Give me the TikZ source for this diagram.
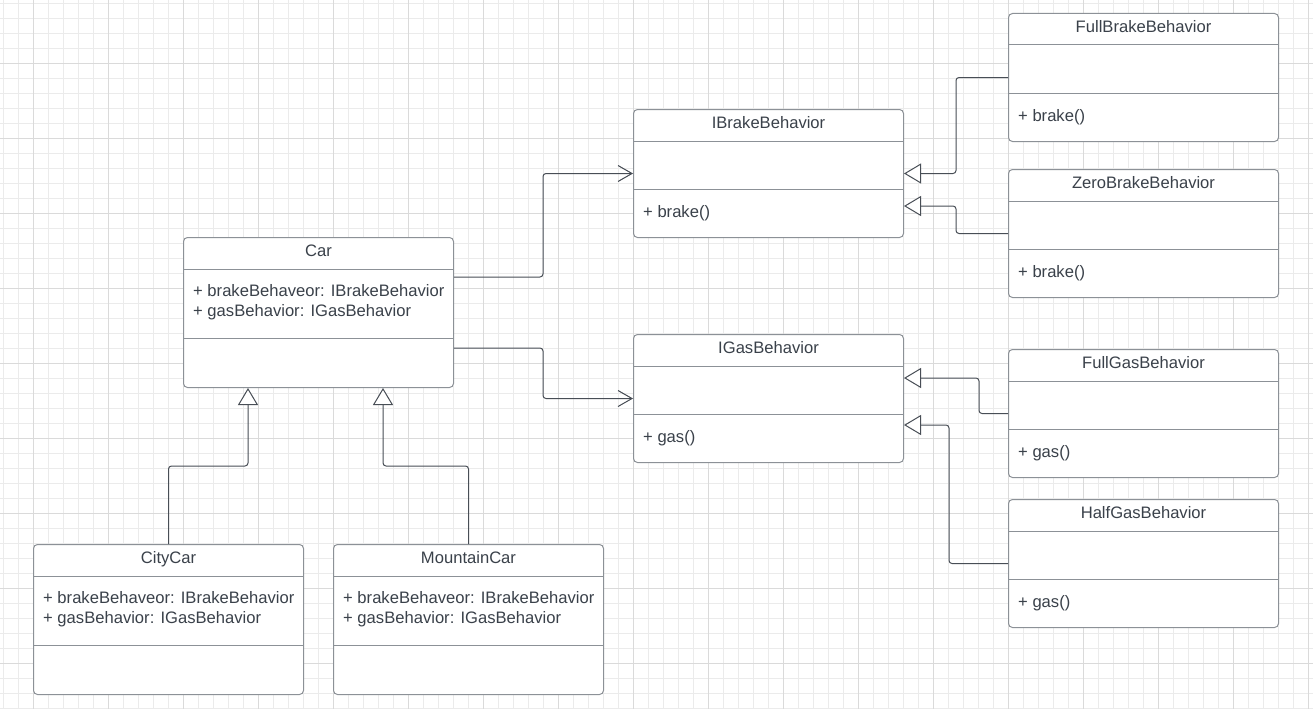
\documentclass[tikz,border=0pt]{standalone}
\usepackage{fontspec}
\setmainfont{Liberation Sans}
\usepackage{xcolor}
\definecolor{ink}{RGB}{58,65,74}
\definecolor{frame}{RGB}{140,145,151}
\definecolor{wire}{RGB}{72,78,86}
\definecolor{gridminor}{RGB}{235,235,235}
\definecolor{gridmajor}{RGB}{218,218,218}
\usepackage{tikz}
\usetikzlibrary{arrows.meta}

\begin{document}
\begin{tikzpicture}[x=1pt,y=-1pt,
    cls/.style={draw=frame, fill=white, line width=1pt, rounded corners=4pt, minimum width=270pt, anchor=north west, inner sep=0pt},
    rule/.style={draw=frame, line width=1pt},
    head/.style={anchor=base, inner sep=0pt, text=ink, font=\fontsize{16.6}{20}\selectfont},
    item/.style={head, anchor=base west},
    link/.style={draw=wire, line width=1pt, rounded corners=3pt},
    uses/.style={link, -{Straight Barb[length=14pt, width=16pt]}},
    isa/.style={link, -{Triangle[open, length=17pt, width=20pt, fill=white]}}]
    \useasboundingbox (0,0) rectangle (1313,709);
    \fill[white] (0,0) rectangle (1313,709);

    % grid paper
    \foreach \g in {3,18,...,1308} \draw[gridminor] (\g,0) -- (\g,709);
    \foreach \g in {3,18,...,708} \draw[gridminor] (0,\g) -- (1313,\g);
    \foreach \g in {33,108,...,1308} \draw[gridmajor] (\g,0) -- (\g,709);
    \foreach \g in {63,138,...,663} \draw[gridmajor] (0,\g) -- (1313,\g);

    % classes with two fields
    \foreach \n/\x/\y/\t in {car/183/237/Car, citycar/33/544/CityCar, mountaincar/333/544/MountainCar} {
      \node[cls, minimum height=150pt] (\n) at (\x,\y) {};
      \draw[rule] (\n.north west) ++(0,32) -- ++(270,0);
      \draw[rule] (\n.north west) ++(0,101) -- ++(270,0);
      \node[head] (\n-title) at ([yshift=-19.5pt]\n.north) {\t};
      \node[item] (\n-brake) at ([shift={(10pt,-59.5pt)}]\n.north west) {+ brakeBehaveor: IBrakeBehavior};
      \node[item] (\n-gas) at ([shift={(10pt,-79.5pt)}]\n.north west) {+ gasBehavior: IGasBehavior};
    }

    % behaviours with one method
    \foreach \n/\x/\y/\t/\m in {ibrake/633/109/IBrakeBehavior/brake, igas/633/334/IGasBehavior/gas,
        fullbrake/1008/13/FullBrakeBehavior/brake, zerobrake/1008/169/ZeroBrakeBehavior/brake,
        fullgas/1008/349/FullGasBehavior/gas, halfgas/1008/499/HalfGasBehavior/gas} {
      \node[cls, minimum height=128pt] (\n) at (\x,\y) {};
      \draw[rule] (\n.north west) ++(0,32) -- ++(270,0);
      \draw[rule] (\n.north west) ++(0,80) -- ++(270,0);
      \node[head] (\n-title) at ([yshift=-19.5pt]\n.north) {\t};
      \node[item] (\n-method) at ([shift={(10pt,-108pt)}]\n.north west) {+ \m()};
    }

    % associations
    \draw[uses] ([yshift=-40pt]car.north east) -| ([xshift=-90pt]ibrake.west) -- (ibrake.west);
    \draw[uses] ([yshift=-111pt]car.north east) -| ([xshift=-90pt]igas.west) -- (igas.west);

    % realisations
    \draw[isa] (fullbrake.west) -| ([xshift=52pt]ibrake.east) -- (ibrake.east);
    \draw[isa] (zerobrake.west) -| ([shift={(52pt,-97pt)}]ibrake.north east) -- ([yshift=-97pt]ibrake.north east);
    \draw[isa] (fullgas.west) -| ([shift={(75pt,-44pt)}]igas.north east) -- ([yshift=-44pt]igas.north east);
    \draw[isa] (halfgas.west) -| ([shift={(45pt,-91pt)}]igas.north east) -- ([yshift=-91pt]igas.north east);

    % subclasses
    \draw[isa] (citycar.north) |- ([shift={(65pt,-78pt)}]car.south west) -- ([xshift=65pt]car.south west);
    \draw[isa] (mountaincar.north) |- ([shift={(-71pt,-78pt)}]car.south east) -- ([xshift=-71pt]car.south east);
  \end{tikzpicture}
\end{document}
